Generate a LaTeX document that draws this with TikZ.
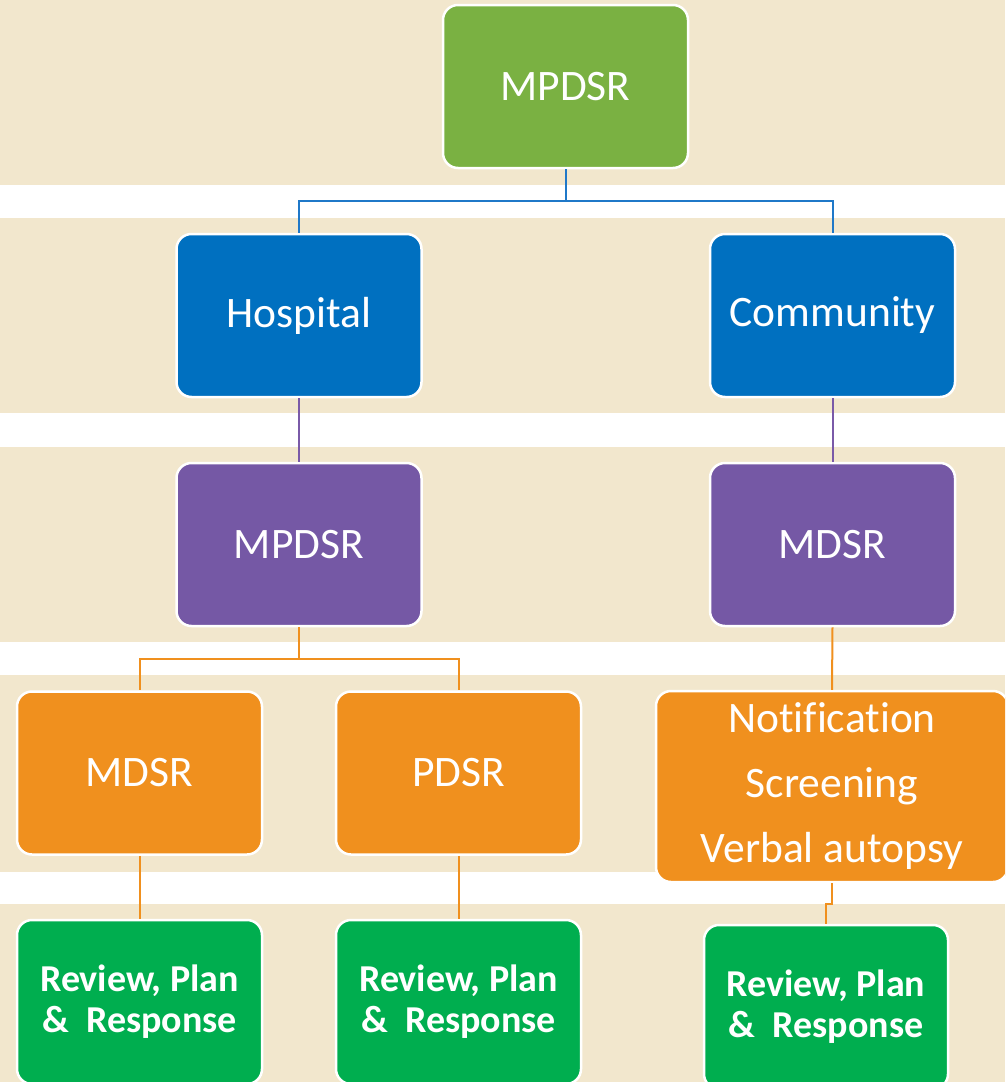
\documentclass[tikz,border=0pt]{standalone}
\usepackage{fontspec}
\setmainfont[Ligatures=NoCommon]{Carlito}
\definecolor{band}{HTML}{F2E7CD}
\definecolor{cgreenA}{HTML}{7AB142}
\definecolor{cblue}{HTML}{0070C0}
\definecolor{cpurple}{HTML}{7558A5}
\definecolor{corange}{HTML}{F0901E}
\definecolor{cgreenB}{HTML}{00AE4F}
\definecolor{lblue}{HTML}{1F78C8}
\definecolor{lpurple}{HTML}{7A5AA8}
\begin{document}
\begin{tikzpicture}[x=1pt,y=-1pt,
  box/.style={draw=white, line width=2.5pt, rounded corners=15pt, minimum width=245pt, minimum height=163pt, text=white, align=center, inner sep=0pt, font=\fontsize{43.5}{50}\selectfont},
  rbox/.style={box, fill=cgreenB, font=\fontsize{38}{41}\selectfont\bfseries},
  conn/.style={line width=2pt}]
\useasboundingbox (0,0) rectangle (1005,1082);
\clip (0,0) rectangle (1005,1082);
\fill[white] (0,0) rectangle (1005,1082);
\fill[band] (0,0) rectangle (1005,185);
\fill[band] (0,218) rectangle (1005,413);
\fill[band] (0,447) rectangle (1005,642);
\fill[band] (0,675) rectangle (1005,872);
\fill[band] (0,904) rectangle (1005,1082);
% boxes
\node[box, fill=cgreenA] (top) at (565.5,86.5) {MPDSR};
\node[box, fill=cblue] (hosp) at (299,315.5) {Hospital};
\node[box, fill=cblue] (comm) at (832.5,315.5) {Community};
\node[box, fill=cpurple] (hmp) at (299,544.5) {MPDSR};
\node[box, fill=cpurple] (cmd) at (832.5,544.5) {MDSR};
\node[box, fill=corange] (omd) at (139.5,773) {MDSR};
\node[box, fill=corange] (opd) at (458.5,773) {PDSR};
\node[box, fill=corange, minimum width=352pt, minimum height=191pt, font=\fontsize{43.5}{65}\selectfont] (notif) at (832,786.5) {Notification\\Screening\\Verbal autopsy};
\node[rbox, minimum height=164pt] (r1) at (139.5,1002) {Review, Plan\\\&\ \ Response};
\node[rbox, minimum height=164pt] (r2) at (458.5,1002) {Review, Plan\\\&\ \ Response};
\node[rbox, minimum width=244pt, minimum height=164pt] (r3) at (826,1007) {Review, Plan\\\&\ \ Response};
% connectors
\draw[conn, lblue] (top.south) -- ++(0,32) -| (hosp.north);
\draw[conn, lblue] (top.south) -- ++(0,32) -| (comm.north);
\draw[conn, lpurple] (hosp.south) -- (hmp.north);
\draw[conn, lpurple] (comm.south) -- (cmd.north);
\draw[conn, corange] (hmp.south) -- ++(0,32) -| (omd.north);
\draw[conn, corange] (hmp.south) -- ++(0,32) -| (opd.north);
\draw[conn, corange] (cmd.south) -- (notif.north);
\draw[conn, corange] (omd.south) -- (r1.north);
\draw[conn, corange] (opd.south) -- (r2.north);
\draw[conn, corange] (notif.south) -- ++(0,21) -| (r3.north);
\end{tikzpicture}
\end{document}
